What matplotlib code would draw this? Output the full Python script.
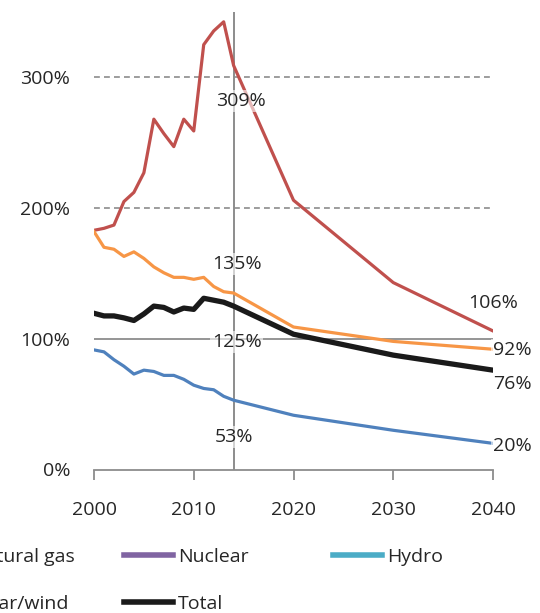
import matplotlib.pyplot as plt
from matplotlib.lines import Line2D

plt.rcParams['font.family'] = ['Open Sans', 'DejaVu Sans']
plt.rcParams['font.size'] = 14
plt.rcParams['text.color'] = '#262626'

# historical years (2000-2014) followed by projection years
years = [2000, 2001, 2002, 2003, 2004, 2005, 2006, 2007, 2008, 2009,
         2010, 2011, 2012, 2013, 2014, 2020, 2030, 2040]

red_series = [183, 184.5, 187, 205, 212, 227, 268, 257, 247, 268,
              259, 325, 335.5, 342.5, 309, 206, 143, 106]
orange_series = [182, 170, 168.5, 163, 166.5, 161.5, 155, 150.5, 147, 147,
                 145.5, 147, 140, 136, 135, 109, 98, 92]
total_series = [119.5, 117.5, 117.5, 116, 114, 119, 125, 124, 120.5, 123.5,
                122.5, 131, 129.5, 128, 125, 103.5, 87.5, 76]
blue_series = [91.5, 90, 84, 79, 73, 76, 75, 72, 72, 69,
               64.5, 62, 61, 56, 53, 41.5, 30, 20]

xticks = [2000, 2010, 2020, 2030, 2040]
yticks = [0, 100, 200, 300]
ytick_labels = ['0%', '100%', '200%', '300%']

legend_labels = ['Natural gas', 'Solar/wind', 'Nuclear', 'Total', 'Hydro']
legend_colors = ['#C0504D', '#F79646', '#8064A2', '#1a1a1a', '#4BACC6']

fig = plt.figure(figsize=(5.4, 6.13), dpi=100)
ax = fig.add_axes([94 / 540, 1 - 469.5 / 613, 399 / 540, 457.5 / 613])

# gridlines
ax.axhline(100, color='#8c8c8c', lw=1.3, zorder=1)
for v in (200, 300):
    ax.axhline(v, color='#8c8c8c', lw=1.2, ls=(0, (3.5, 2.5)), zorder=1)
ax.axvline(2014, color='#8c8c8c', lw=1.4, zorder=1)

ax.plot(years, red_series, color='#C0504D', lw=2.3, zorder=3)
ax.plot(years, orange_series, color='#F79646', lw=2.3, zorder=3)
ax.plot(years, blue_series, color='#4F81BD', lw=2.3, zorder=3)
ax.plot(years, total_series, color='#1a1a1a', lw=3.8, zorder=4)

ax.set_xlim(2000, 2040)
ax.set_ylim(0, 350)
ax.set_xticks(xticks)
ax.set_yticks(yticks)
ax.set_yticklabels(ytick_labels)

for s in ('top', 'right', 'left'):
    ax.spines[s].set_visible(False)
ax.spines['bottom'].set_color('#8c8c8c')
ax.spines['bottom'].set_linewidth(1.3)
ax.tick_params(axis='x', direction='out', length=7, width=1.3,
               color='#8c8c8c', pad=16, labelsize=14, labelcolor='#262626')
ax.tick_params(axis='y', length=0, pad=17, labelsize=14, labelcolor='#262626')

box = dict(boxstyle='square,pad=0.1', fc='white', ec='none', alpha=0.6)
i14 = years.index(2014)
notes = [
    (2014, red_series[i14], '309%', (7, -35), 'center'),
    (2014, orange_series[i14], '135%', (3, 29), 'center'),
    (2014, total_series[i14], '125%', (3, -36), 'center'),
    (2014, blue_series[i14], '53%', (0, -37), 'center'),
    (2040, red_series[-1], '106%', (0, 28), 'center'),
    (2040, orange_series[-1], '92%', (0, -1), 'left'),
    (2040, total_series[-1], '76%', (0, -14), 'left'),
    (2040, blue_series[-1], '20%', (0, -3), 'left'),
]
for x, y, txt, off, ha in notes:
    ax.annotate(txt, (x, y), xytext=off, textcoords='offset pixels',
                ha=ha, va='center', fontsize=14, bbox=box, zorder=5)

# legend, laid out column by column (first column runs off the left edge)
col_x = [-83, 124, 333]
cols = [[0, 1], [2, 3], [4]]
for cx, idx in zip(col_x, cols):
    handles = [Line2D([], [], color=legend_colors[i], lw=4) for i in idx]
    labels = [legend_labels[i] for i in idx]
    fig.legend(handles, labels, loc='upper left',
               bbox_to_anchor=(cx / 540, 1 - 548 / 613),
               frameon=False, borderpad=0, borderaxespad=0,
               handlelength=2.5, handletextpad=0.26, labelspacing=1.5,
               fontsize=14)

fig.savefig('out.png', dpi=100)
